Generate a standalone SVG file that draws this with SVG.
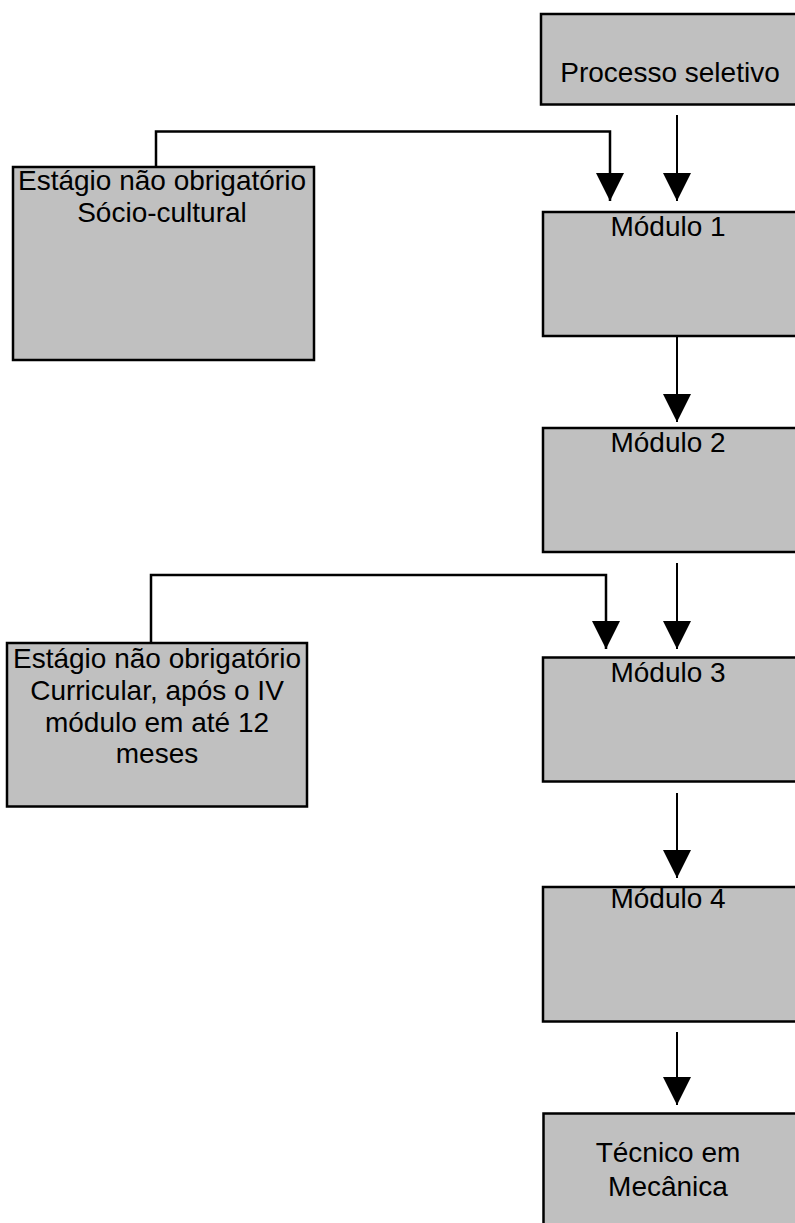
<svg xmlns="http://www.w3.org/2000/svg" width="795" height="1223" viewBox="0 0 795 1223">
  <defs>
    <style>
      .box { fill: #c0c0c0; stroke: #000; stroke-width: 2.5; }
      .lbl { font-family: "Liberation Sans", Arial, sans-serif; font-size: 28px; fill: #000; text-anchor: middle; }
      .flow { fill: none; stroke: #000; stroke-width: 2; }
      .link { fill: none; stroke: #000; stroke-width: 2.5; }
    </style>
    <marker id="head" markerUnits="userSpaceOnUse" markerWidth="28" markerHeight="28" refX="28" refY="14" orient="auto">
      <path d="M0,0 L28,14 L0,28 Z" fill="#000"/>
    </marker>
  </defs>
  <rect width="795" height="1223" fill="#fff"/>

  <g id="connectors">
    <!-- main column -->
    <line class="flow" x1="677" y1="115" x2="677" y2="201" marker-end="url(#head)"/>
    <line class="flow" x1="677" y1="337" x2="677" y2="422" marker-end="url(#head)"/>
    <line class="flow" x1="677" y1="563" x2="677" y2="649" marker-end="url(#head)"/>
    <line class="flow" x1="677" y1="793" x2="677" y2="878" marker-end="url(#head)"/>
    <line class="flow" x1="677" y1="1032" x2="677" y2="1105" marker-end="url(#head)"/>
    <!-- side internships feeding back into the modules -->
    <polyline class="link" points="156,195 156,131.5 610,131.5 610,201" marker-end="url(#head)"/>
    <polyline class="link" points="151,642 151,575 606,575 606,649" marker-end="url(#head)"/>
  </g>

  <g id="processo-seletivo">
    <rect class="box" x="541" y="14" width="270" height="90.5"/>
    <text class="lbl" x="670" y="82">Processo seletivo</text>
  </g>

  <g id="modulo-1">
    <rect class="box" x="543" y="212" width="270" height="124"/>
    <text class="lbl" x="668" y="236">Módulo 1</text>
  </g>

  <g id="modulo-2">
    <rect class="box" x="543" y="428" width="270" height="124"/>
    <text class="lbl" x="668" y="452">Módulo 2</text>
  </g>

  <g id="modulo-3">
    <rect class="box" x="543" y="657.5" width="270" height="124"/>
    <text class="lbl" x="668" y="682">Módulo 3</text>
  </g>

  <g id="modulo-4">
    <rect class="box" x="543" y="887" width="270" height="134.5"/>
    <text class="lbl" x="668" y="908">Módulo 4</text>
  </g>

  <g id="tecnico-mecanica">
    <rect class="box" x="543.5" y="1113.5" width="270" height="130"/>
    <text class="lbl" x="668" y="1162">Técnico em</text>
    <text class="lbl" x="668" y="1196">Mecânica</text>
  </g>

  <g id="estagio-socio-cultural">
    <rect class="box" x="13" y="167" width="301" height="193"/>
    <text class="lbl" x="162" y="190">Estágio não obrigatório</text>
    <text class="lbl" x="162" y="222">Sócio-cultural</text>
  </g>

  <g id="estagio-curricular">
    <rect class="box" x="7" y="643" width="300" height="163.5"/>
    <text class="lbl" x="157" y="668">Estágio não obrigatório</text>
    <text class="lbl" x="157" y="700">Curricular, após o IV</text>
    <text class="lbl" x="157" y="732">módulo em até 12</text>
    <text class="lbl" x="157" y="763">meses</text>
  </g>
</svg>
